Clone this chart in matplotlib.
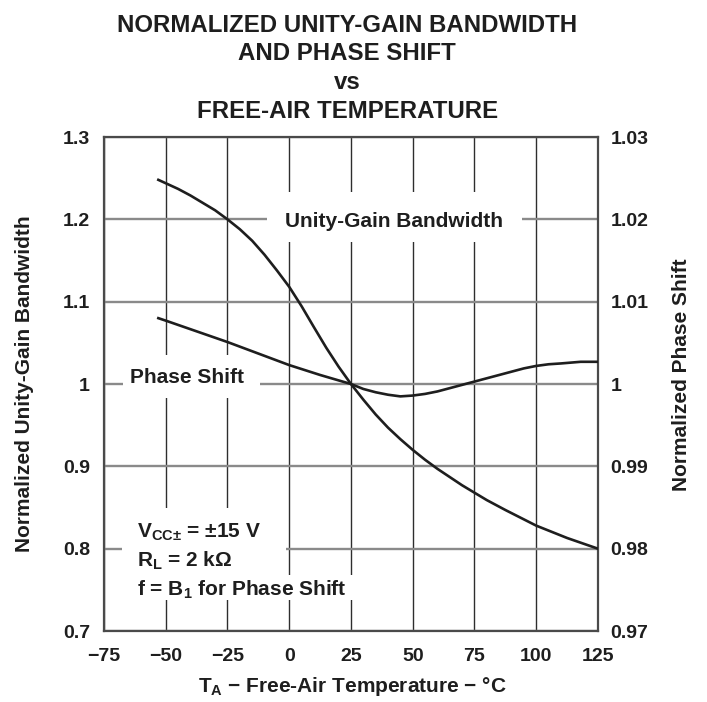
import matplotlib
matplotlib.use("Agg")
import matplotlib.pyplot as plt
from matplotlib.patches import Rectangle

plt.rcParams['font.family'] = ['Liberation Sans', 'DejaVu Sans']
plt.rcParams['font.weight'] = 'bold'
plt.rcParams['mathtext.fontset'] = 'custom'
plt.rcParams['mathtext.rm'] = 'Liberation Sans:bold'
plt.rcParams['mathtext.it'] = 'Liberation Sans:bold'
plt.rcParams['mathtext.bf'] = 'Liberation Sans:bold'

# Data
bw_temp = [-53, -45, -40, -35, -30, -25, -20, -15, -10, -5, 0, 5, 10, 15, 20, 25,
           30, 35, 40, 45, 50, 55, 60, 65, 70, 75, 80, 87.5, 100, 112.5, 125]
bw_norm = [1.248, 1.237, 1.229, 1.220, 1.211, 1.200, 1.188, 1.174, 1.157, 1.138, 1.118,
           1.0945, 1.069, 1.044, 1.021, 1.000, 0.981, 0.963, 0.947, 0.933, 0.920,
           0.908, 0.897, 0.887, 0.877, 0.868, 0.859, 0.847, 0.828, 0.813, 0.800]

ph_temp = [-53, -50, -37.5, -25, -12.5, 0, 12.5, 25, 30, 35, 40, 45, 50, 55, 60,
           65, 70, 75, 80, 85, 90, 95, 100, 105, 110, 118, 125]
ph_norm = [1.0080, 1.0077, 1.0064, 1.0051, 1.0037, 1.0023, 1.0011, 1.0000, 0.9994,
           0.9990, 0.9987, 0.9985, 0.9986, 0.9988, 0.9991, 0.9995, 0.9999, 1.0003,
           1.0007, 1.0011, 1.0015, 1.0019, 1.0022, 1.0024, 1.0025, 1.0027, 1.0027]

x_ticks = [-75, -50, -25, 0, 25, 50, 75, 100, 125]
x_labels = ["−75", "−50", "−25", "0", "25", "50", "75", "100", "125"]
yl_ticks = [0.7, 0.8, 0.9, 1.0, 1.1, 1.2, 1.3]
yl_labels = ["0.7", "0.8", "0.9", "1", "1.1", "1.2", "1.3"]
yr_ticks = [0.97, 0.98, 0.99, 1.0, 1.01, 1.02, 1.03]
yr_labels = ["0.97", "0.98", "0.99", "1", "1.01", "1.02", "1.03"]

ink = '#1e1e1e'

fig = plt.figure(figsize=(7.07, 7.02), dpi=100)
ax = fig.add_axes([0.1471, 0.1011, 0.6987, 0.7037])
ax.set_xlim(-75, 125)
ax.set_ylim(0.7, 1.3)
ax.set_axisbelow(True)

ax.set_xticks(x_ticks)
ax.set_xticklabels(x_labels)
ax.set_yticks(yl_ticks)
ax.set_yticklabels(yl_labels)
ax.tick_params(axis='both', length=0, labelsize=14, colors=ink)
ax.tick_params(axis='x', pad=12)
ax.tick_params(axis='y', pad=10)

# grid: horizontal grey and thicker, vertical darker and thinner
ax.grid(axis='y', color='#8a8a8a', linewidth=1.7)
ax.grid(axis='x', color='#2e2e2e', linewidth=1.0)
for s in ax.spines.values():
    s.set_color('#4a4a4a')
    s.set_linewidth(1.6)

# white masks behind the labels (gaps in the grid)
masks = [(-9.0, 1.1725, 103.2, 0.0607),
         (-67.3, 0.983, 55.5, 0.0522),
         (-67.7, 0.768, 66.4, 0.0814),
         (-67.7, 0.7376, 99.6, 0.0304)]
for x0, y0, w, h in masks:
    ax.add_patch(Rectangle((x0, y0), w, h, facecolor='white', edgecolor='none', zorder=1))

ax.plot(bw_temp, bw_norm, color=ink, linewidth=1.9, zorder=3)

ax2 = ax.twinx()
ax2.set_ylim(0.97, 1.03)
ax2.set_yticks(yr_ticks)
ax2.set_yticklabels(yr_labels)
ax2.tick_params(axis='y', length=0, labelsize=14, colors=ink, pad=9)
for s in ax2.spines.values():
    s.set_visible(False)
ax2.plot(ph_temp, ph_norm, color=ink, linewidth=1.9, zorder=3)

# curve labels
ax.text(42.5, 1.197, "Unity-Gain Bandwidth", fontsize=15, color=ink,
        ha='center', va='center', zorder=4)
ax.text(-41.5, 1.0075, "Phase Shift", fontsize=15, color=ink,
        ha='center', va='center', zorder=4)

# conditions
ax.text(-61.5, 0.8138, r"V$_{\rm CC{\pm}}$ = ±15 V", fontsize=15, color=ink, va='baseline', zorder=4)
ax.text(-61.5, 0.7786, r"R$_{\rm L}$ = 2 kΩ", fontsize=15, color=ink, va='baseline', zorder=4)
ax.text(-61.5, 0.7434, r"f = B$_{\rm 1}$ for Phase Shift", fontsize=15, color=ink, va='baseline', zorder=4)

# title
title_lines = ["NORMALIZED UNITY-GAIN BANDWIDTH", "AND PHASE SHIFT", "vs", "FREE-AIR TEMPERATURE"]
baselines = [32, 60.5, 89, 117.5]
for line, b in zip(title_lines, baselines):
    fig.text(0.491, 1 - b / 702, line, fontsize=17.3, color=ink, ha='center', va='baseline')

# axis labels
fig.text(0.0347, 0.453, "Normalized Unity-Gain Bandwidth", rotation=90, fontsize=15,
         color=ink, ha='center', va='center')
fig.text(0.9646, 0.4658, "Normalized Phase Shift", rotation=90, fontsize=15,
         color=ink, ha='center', va='center')
fig.text(0.498, 1 - 692 / 702, r"T$_{\rm A}$ − Free-Air Temperature − °C", fontsize=15,
         color=ink, ha='center', va='baseline')

fig.savefig("out.png", dpi=100, facecolor='white')
